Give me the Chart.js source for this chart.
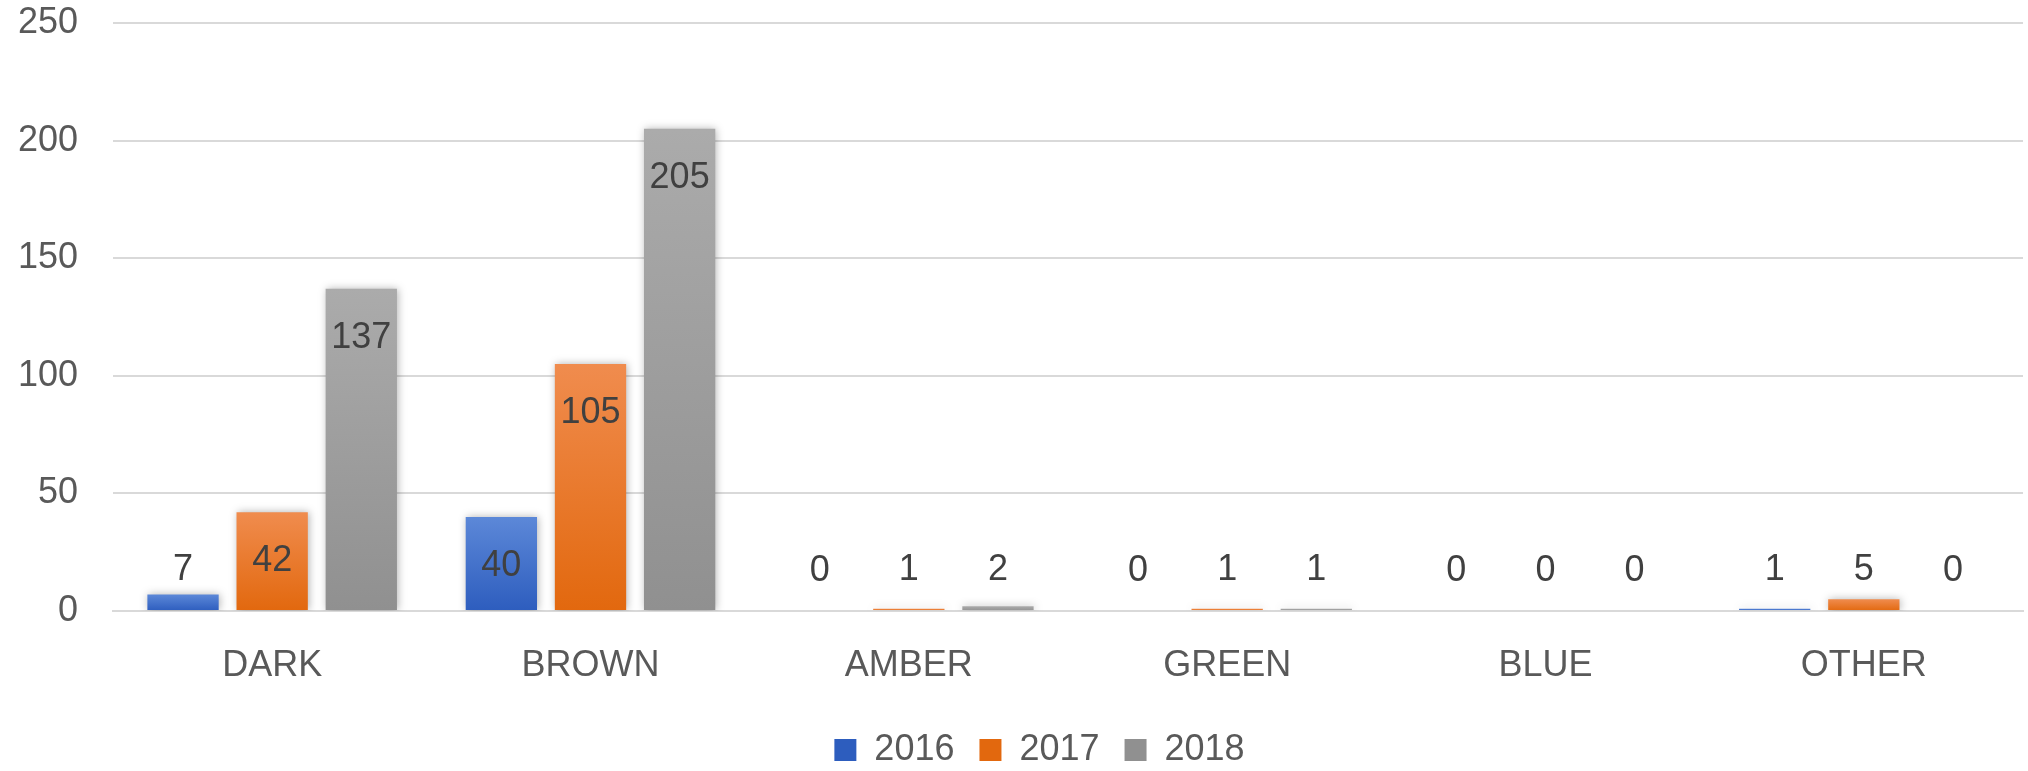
<!DOCTYPE html>
<html>
<head>
<meta charset="utf-8">
<script src="https://cdn.jsdelivr.net/npm/chart.js@4.4.1/dist/chart.umd.min.js"></script>
<style>
  html, body { margin: 0; padding: 0; background: #ffffff; }
  #wrap { width: 2028px; height: 771px; position: relative; }
</style>
</head>
<body>
<div id="wrap"><canvas id="c" width="2028" height="771"></canvas></div>
<script>
const categories = ['DARK', 'BROWN', 'AMBER', 'GREEN', 'BLUE', 'OTHER'];
const seriesNames = ['2016', '2017', '2018'];
const values2016 = [7, 40, 0, 0, 0, 1];
const values2017 = [42, 105, 1, 1, 0, 5];
const values2018 = [137, 205, 2, 1, 0, 0];
const yMin = 0;
const yMax = 250;
const yStep = 50;

const palette = [
  { solid: '#4472C4', top: '#5C88D8', bottom: '#2D5DBE' },
  { solid: '#ED7D31', top: '#F08C4E', bottom: '#E2680E' },
  { solid: '#A5A5A5', top: '#ABABAB', bottom: '#909090' }
];

function gradientFor(i) {
  return function (ctx) {
    const p = palette[i];
    if (ctx.type !== 'data') return p.solid;
    const chart = ctx.chart;
    const y = chart.scales && chart.scales.y;
    if (!y || !chart.chartArea) return p.solid;
    const v = ctx.raw;
    const top = y.getPixelForValue(v);
    const base = y.getPixelForValue(0);
    if (!isFinite(top) || Math.abs(base - top) < 1) return p.solid;
    const g = chart.ctx.createLinearGradient(0, top, 0, base);
    g.addColorStop(0, p.top);
    g.addColorStop(1, p.bottom);
    return g;
  };
}

const seriesValues = [values2016, values2017, values2018];
const datasets = seriesNames.map((name, i) => ({
  label: name,
  data: seriesValues[i],
  backgroundColor: gradientFor(i),
  borderWidth: 0,
  categoryPercentage: 0.84,
  barPercentage: 0.80
}));

const FONT = "'Liberation Sans', Arial, sans-serif";

const shadowPlugin = {
  id: 'barShadow',
  beforeDatasetsDraw(chart) {
    const c = chart.ctx;
    c.save();
    c.shadowColor = 'rgba(0,0,0,0.3)';
    c.shadowBlur = 8;
    c.shadowOffsetX = 1;
    c.shadowOffsetY = 0;
  },
  afterDatasetsDraw(chart) {
    chart.ctx.restore();
  }
};

const labelPlugin = {
  id: 'valueLabels',
  afterDatasetsDraw(chart) {
    const c = chart.ctx;
    c.save();
    c.font = '36px ' + FONT;
    c.fillStyle = '#404040';
    c.textAlign = 'center';
    c.textBaseline = 'middle';
    chart.data.datasets.forEach((ds, di) => {
      const meta = chart.getDatasetMeta(di);
      meta.data.forEach((el, idx) => {
        const v = ds.data[idx];
        const cy = Math.min(el.y + 49, el.base - 40);
        c.fillText(String(v), el.x, cy);
      });
    });
    c.restore();
  }
};

const legendShift = {
  id: 'legendShift',
  afterLayout(chart) {
    if (chart.legend) {
      chart.legend.left += 28;
      chart.legend.right += 28;
    }
  }
};

new Chart(document.getElementById('c'), {
  type: 'bar',
  data: { labels: categories, datasets: datasets },
  options: {
    responsive: false,
    animation: false,
    devicePixelRatio: 1,
    layout: { padding: { top: 0, right: 5, left: 0, bottom: -7 } },
    plugins: {
      legend: {
        position: 'bottom',
        labels: {
          font: { family: FONT, size: 36 },
          color: '#595959',
          boxWidth: 22,
          boxHeight: 22,
          padding: 25
        }
      },
      tooltip: { enabled: false }
    },
    scales: {
      x: {
        grid: { display: false, drawTicks: false },
        border: { display: true, color: '#D9D9D9', width: 2 },
        ticks: {
          font: { family: FONT, size: 36 },
          color: '#595959',
          padding: 33,
          maxRotation: 0
        },
        afterFit(scale) { scale.height = 96; }
      },
      y: {
        min: yMin,
        max: yMax,
        grid: { color: '#D9D9D9', lineWidth: 2, drawTicks: false },
        border: { display: false },
        ticks: {
          stepSize: yStep,
          font: { family: FONT, size: 36 },
          color: '#595959',
          padding: 35
        },
        afterFit(scale) {
          scale.width = 113;
          scale.paddingTop = 23;
          scale.paddingBottom = 0;
        }
      }
    }
  },
  plugins: [shadowPlugin, labelPlugin, legendShift]
});
</script>
</body>
</html>
